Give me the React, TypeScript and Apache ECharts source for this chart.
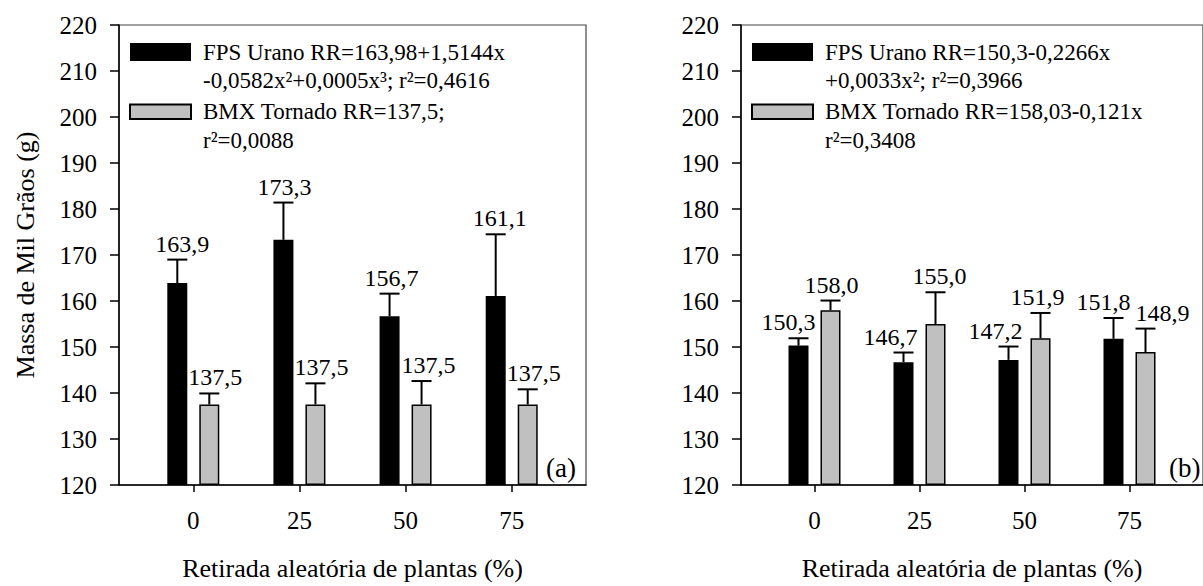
import React, { useEffect, useRef } from 'react';
import * as echarts from 'echarts';

// ---------- data ----------
const categories = [0, 25, 50, 75];
const xTickLabels = ['0', '25', '50', '75'];
const yMin = 120;
const yMax = 220;
const yStep = 10;

// panel (a)
const aUranoMean = [163.9, 173.3, 156.7, 161.1];
const aUranoTop = [169.0, 181.4, 161.6, 174.5];
const aTornadoMean = [137.5, 137.5, 137.5, 137.5];
const aTornadoTop = [139.9, 142.1, 142.6, 140.8];

// panel (b)
const bUranoMean = [150.3, 146.7, 147.2, 151.8];
const bUranoTop = [151.9, 148.8, 150.1, 156.3];
const bTornadoMean = [158.0, 155.0, 151.9, 148.9];
const bTornadoTop = [160.1, 161.9, 157.4, 154.0];

const aLegendUrano = ['FPS Urano RR=163,98+1,5144x', '-0,0582x²+0,0005x³; r²=0,4616'];
const aLegendTornado = ['BMX Tornado RR=137,5;', 'r²=0,0088'];
const bLegendUrano = ['FPS Urano RR=150,3-0,2266x', '+0,0033x²; r²=0,3966'];
const bLegendTornado = ['BMX Tornado RR=158,03-0,121x', 'r²=0,3408'];

const seriesNames = ['FPS Urano', 'BMX Tornado'];
const yAxisName = 'Massa de Mil Grãos (g)';
const xAxisName = 'Retirada aleatória de plantas (%)';
const panelTags = ['(a)', '(b)'];

// ---------- layout / style ----------
const FONT = 'Liberation Serif';
const BAR_W = 20;
const BAR_GAP = 12;
const SHIFT = (BAR_W + BAR_GAP) / 2;
const GRIDS = [
  { left: 119, top: 25, width: 467, height: 465 },
  { left: 741, top: 25, width: 468, height: 465 },
];
// horizontal nudges of the value labels (px)
const aLabelDx = { urano: [5, 1, 2, 4], tornado: [6, 6, 7, 6] };
const bLabelDx = { urano: [-10, -13, -13, -10], tornado: [1, 4, -3, 17] };

const fmt = (v: number) => v.toFixed(1).replace('.', ',');

function errorSeries(i: number, mean: number[], top: number[], dx: number[], side: number) {
  return {
    type: 'custom',
    xAxisIndex: i,
    yAxisIndex: i,
    silent: true,
    z: 5,
    data: categories.map((c, k) => [c, mean[k], top[k], dx[k]]),
    encode: { x: 0, y: [1, 2] },
    renderItem: (_params: any, api: any) => {
      const x = api.value(0);
      const m = api.value(1);
      const t = api.value(2);
      const d = api.value(3);
      const pm = api.coord([x, m]);
      const pt = api.coord([x, t]);
      const cx = pm[0] + side * SHIFT;
      return {
        type: 'group',
        children: [
          { type: 'line', shape: { x1: cx, y1: pm[1], x2: cx, y2: pt[1] }, style: { stroke: '#000', lineWidth: 2 } },
          { type: 'line', shape: { x1: cx - BAR_W / 2, y1: pt[1], x2: cx + BAR_W / 2, y2: pt[1] }, style: { stroke: '#000', lineWidth: 2 } },
          {
            type: 'text',
            x: cx + d,
            y: pt[1] - 4,
            style: { text: fmt(m), fontSize: 24, fontFamily: FONT, fill: '#000', align: 'center', verticalAlign: 'bottom' },
          },
        ],
      };
    },
  };
}

function legendGraphics(i: number, urano: string[], tornado: string[]) {
  const g = GRIDS[i];
  const ix = g.left + 11;
  const tx = g.left + 84;
  const lineMid = [52, 80.5, 111.5, 140.5];
  const lines = [...urano, ...tornado];
  return [
    { type: 'rect', shape: { x: ix, y: 43, width: 61, height: 18 }, style: { fill: '#000' } },
    { type: 'rect', shape: { x: ix, y: 104.5, width: 61, height: 14.5 }, style: { fill: '#c0c0c0', stroke: '#000', lineWidth: 2 } },
    ...lines.map((t, k) => ({
      type: 'text',
      x: tx,
      y: lineMid[k],
      style: { text: t, fontSize: 23, fontFamily: FONT, fill: '#000', align: 'left', verticalAlign: 'middle' },
    })),
    {
      type: 'text',
      x: g.left + g.width - 40,
      y: 468,
      style: { text: panelTags[i], fontSize: 27, fontFamily: FONT, fill: '#000', align: 'left', verticalAlign: 'middle' },
    },
  ];
}

function xAxis(i: number) {
  return {
    type: 'value',
    gridIndex: i,
    min: -17.5,
    max: 92.5,
    axisLine: { show: true, onZero: false, lineStyle: { color: '#000', width: 1.5 } },
    axisTick: { show: true, length: 7, customValues: categories, lineStyle: { color: '#000', width: 1.5 } },
    axisLabel: {
      customValues: categories,
      formatter: (v: number) => xTickLabels[categories.indexOf(v)] ?? String(v),
      margin: 23,
      fontSize: 25,
      fontFamily: FONT,
      color: '#000',
    },
    splitLine: { show: false },
    name: xAxisName,
    nameLocation: 'middle',
    nameGap: 70,
    nameTextStyle: { fontSize: 26, fontFamily: FONT, color: '#000' },
  };
}

function yAxis(i: number) {
  return {
    type: 'value',
    gridIndex: i,
    min: yMin,
    max: yMax,
    interval: yStep,
    startValue: yMin,
    axisLine: { show: true, onZero: false, lineStyle: { color: '#000', width: 1.5 } },
    axisTick: { show: true, length: 9, lineStyle: { color: '#000', width: 1.5 } },
    axisLabel: { margin: 22, fontSize: 25, fontFamily: FONT, color: '#000' },
    splitLine: { show: false },
    name: i === 0 ? yAxisName : '',
    nameLocation: 'middle',
    nameGap: 81,
    nameTextStyle: { fontSize: 26, fontFamily: FONT, color: '#000' },
  };
}

function barSeries(i: number, name: string, vals: number[], style: any) {
  return {
    type: 'bar',
    name,
    xAxisIndex: i,
    yAxisIndex: i,
    data: categories.map((c, k) => [c, vals[k]]),
    barWidth: BAR_W,
    barGap: `${(BAR_GAP / BAR_W) * 100}%`,
    clip: true,
    itemStyle: style,
  };
}

const blackStyle = { color: '#000' };
const grayStyle = { color: '#c0c0c0', borderColor: '#000', borderWidth: 1.5 };

export default function App() {
  const ref = useRef<HTMLDivElement>(null);
  useEffect(() => {
    if (!ref.current) return;
    const chart = echarts.init(ref.current, undefined, { renderer: 'svg' });
    chart.setOption({
      animation: false,
      backgroundColor: '#fff',
      textStyle: { fontFamily: FONT },
      grid: GRIDS.map((g) => ({ ...g, show: true, borderColor: '#444', borderWidth: 1.2, backgroundColor: 'transparent', containLabel: false })),
      xAxis: [xAxis(0), xAxis(1)],
      yAxis: [yAxis(0), yAxis(1)],
      series: [
        barSeries(0, seriesNames[0], aUranoMean, blackStyle),
        barSeries(0, seriesNames[1], aTornadoMean, grayStyle),
        errorSeries(0, aUranoMean, aUranoTop, aLabelDx.urano, -1),
        errorSeries(0, aTornadoMean, aTornadoTop, aLabelDx.tornado, 1),
        barSeries(1, seriesNames[0], bUranoMean, blackStyle),
        barSeries(1, seriesNames[1], bTornadoMean, grayStyle),
        errorSeries(1, bUranoMean, bUranoTop, bLabelDx.urano, -1),
        errorSeries(1, bTornadoMean, bTornadoTop, bLabelDx.tornado, 1),
      ],
      graphic: [
        ...legendGraphics(0, aLegendUrano, aLegendTornado),
        ...legendGraphics(1, bLegendUrano, bLegendTornado),
      ],
    });
    return () => chart.dispose();
  }, []);
  return (
    <div
      ref={ref}
      style={{ position: 'fixed', left: 0, top: 0, width: 1203, height: 586, background: '#fff' }}
    />
  );
}
